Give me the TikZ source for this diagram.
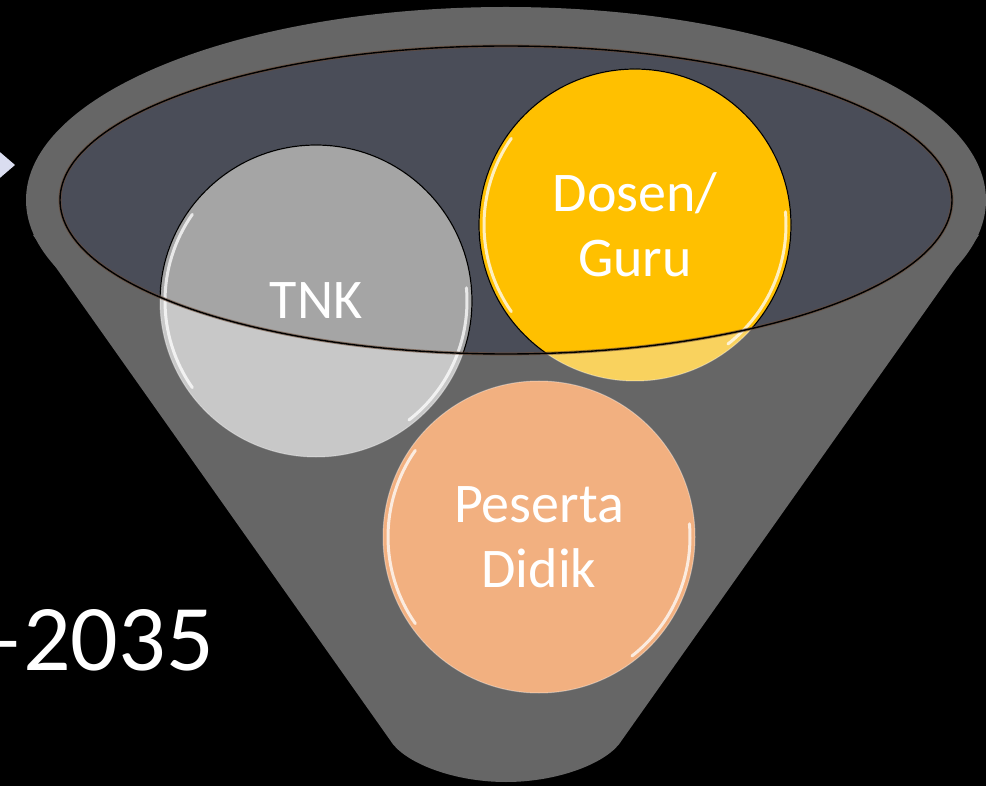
\documentclass[tikz,border=0pt]{standalone}
\usepackage{fontspec}
\setmainfont{Carlito}
\usepackage{tikz}
\usetikzlibrary{positioning}

\definecolor{funnelgray}{HTML}{666666}
\definecolor{rimslate}{HTML}{4A4D58}
\definecolor{rimedge}{HTML}{6B4A35}
\definecolor{tnkgray}{HTML}{C8C8C8}
\definecolor{tnkin}{HTML}{A5A5A5}
\definecolor{gurugold}{HTML}{F9D25E}
\definecolor{guruin}{HTML}{FFC000}
\definecolor{didikpeach}{HTML}{F2B080}
\definecolor{arrowblue}{HTML}{DADDF0}

\begin{document}
\begin{tikzpicture}[x=1pt,y=-1pt,
  bubble/.style={circle,inner sep=0,minimum size=312pt,text=white,align=center,
    draw=white,draw opacity=.35,line width=1pt,font=\fontsize{56}{65}\selectfont},
  rimclip/.style={path picture={\fill[#1] (rim) ellipse[x radius=446,y radius=154];}}]
  \def\r{156}
  \useasboundingbox (0,0) rectangle (986,786);
  \fill[black] (0,0) rectangle (986,786);
  \coordinate(rim) at (506,200);
  % arrow tip cut by the left edge
  \fill[arrowblue] (-20,135) -- (15,165) -- (-20,195) -- cycle;
  % funnel
  \fill[funnelgray] (rim) ellipse[x radius=480,y radius=193];
  \fill[funnelgray] (33,235) -- (390,740) .. controls (403,762) and (452,782) .. (506,782)
    .. controls (560,782) and (609,762) .. (622,740) -- (979,235) -- cycle;
  \fill[rimslate] (rim) ellipse[x radius=446,y radius=154];
  % the three groups
  \node[bubble,fill=tnkgray,rimclip=tnkin] (tnk) at (316,301) {TNK};
  \node[bubble,fill=gurugold,rimclip=guruin] (dosen) at (635,225) {Dosen/\\Guru};
  \node[bubble,fill=didikpeach] (peserta) at (539,537) {Peserta\\Didik};
  \begin{scope}
    \clip (rim) ellipse[x radius=446,y radius=154];
    \foreach \c in {tnk,dosen}
      \draw[line width=1.2pt] (\c.center) circle[radius=\r];
  \end{scope}
  \foreach \c in {tnk,dosen,peserta} {
    \draw[white,opacity=.75,line width=3pt,line cap=round] (\c.center) ++(-145:\r-5) arc[start angle=-145,end angle=-215,radius=\r-5];
    \draw[white,opacity=.75,line width=3pt,line cap=round] (\c.center) ++(52:\r-5) arc[start angle=52,end angle=-5,radius=\r-5];
  }
  \draw[rimedge,opacity=.6,line width=3.2pt] (rim) ellipse[x radius=446,y radius=154];
  \draw[black,line width=1.4pt] (rim) ellipse[x radius=446,y radius=154];
  \node[anchor=base east,text=white,inner sep=0,font=\fontsize{94}{104}\selectfont] (year) at (214,670) {–2035};
\end{tikzpicture}
\end{document}
